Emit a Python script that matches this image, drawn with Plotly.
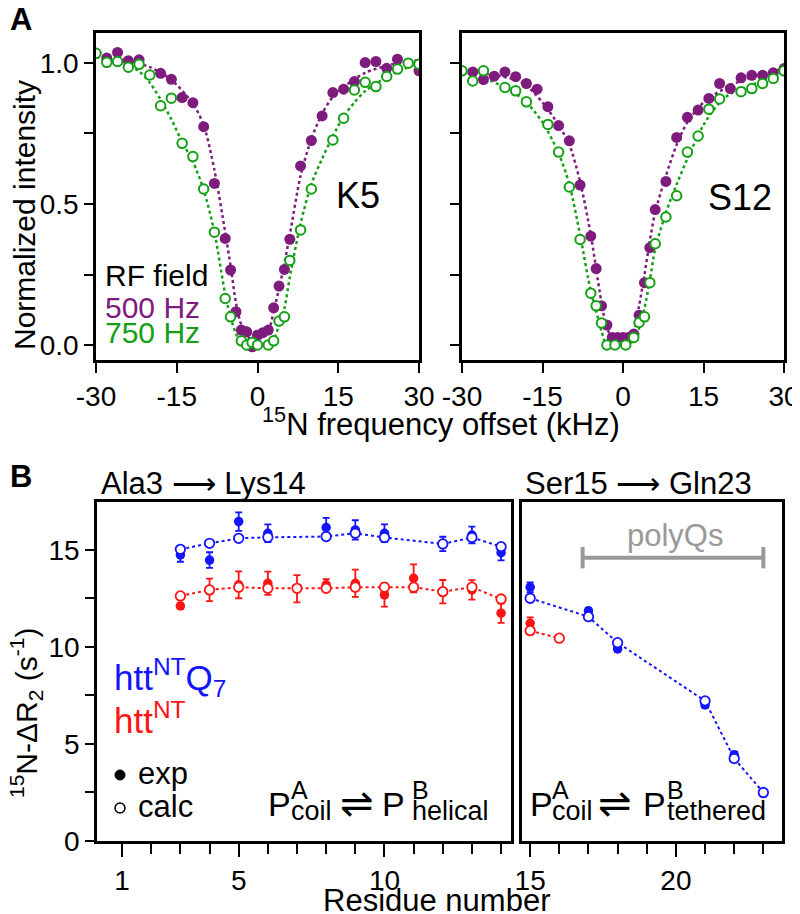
import plotly.graph_objects as go

# The page body has an 8px margin, so the figure is drawn from screen (8, 8).
OFF = 8
W, H = 800 - OFF, 914 - OFF
def px(x): return (x - OFF) / W
def py(y): return 1 - (y - OFF) / H

FONT = "Liberation Sans, Arial, Helvetica, sans-serif"
PURPLE = "#7d1c7d"
GREEN = "#14a014"
BLUE = "#1414ff"
RED = "#ff1414"
GRAY = "#999999"

# ---------------- Panel A data ----------------
k5_off_500 = [-28, -26, -24, -22, -18, -16, -14, -12, -10, -8, -6, -5, -4, -3, -2, -1, 0, 1, 2, 3, 4, 5, 6, 8, 10, 12, 14, 16, 18, 20, 22, 24, 26, 30]
k5_int_500 = [1.017, 1.037, 1.008, 1.011, 0.963, 0.942, 0.877, 0.859, 0.774, 0.573, 0.378, 0.266, 0.118, 0.053, 0.047, -0.006, 0.035, 0.044, 0.053, 0.132, 0.209, 0.268, 0.375, 0.635, 0.725, 0.812, 0.895, 0.907, 0.934, 1.001, 1.005, 0.981, 1.013, 0.972]
k5_off_750 = [-30, -28, -26, -24, -22, -20, -18, -16, -14, -12, -10, -8, -6, -5, -3, -2, -1, 0, 2, 3, 4, 5, 6, 8, 10, 14, 16, 18, 20, 22, 24, 26, 28, 30]
k5_int_750 = [1.034, 1.002, 1.005, 0.985, 0.995, 0.957, 0.848, 0.875, 0.715, 0.668, 0.553, 0.40, 0.165, 0.10, 0.015, 0.0, 0.009, 0.0, 0.0, 0.015, 0.085, 0.10, 0.30, 0.408, 0.553, 0.727, 0.804, 0.904, 0.931, 0.916, 0.952, 0.978, 0.999, 0.995]
k5_fit_off_500 = [-30, -25, -20, -16, -12, -10, -8, -6, -5, -4, -3, -2, 0, 2, 3, 4, 5, 6, 8, 10, 12, 14, 16, 20, 25, 30]
k5_fit_500 = [1.02, 1.01, 0.985, 0.94, 0.855, 0.78, 0.62, 0.40, 0.28, 0.15, 0.07, 0.03, 0.02, 0.05, 0.12, 0.2, 0.29, 0.39, 0.6, 0.73, 0.82, 0.88, 0.915, 0.965, 0.995, 1.01]
k5_fit_off_750 = [-30, -25, -22, -20, -18, -16, -14, -12, -10, -8, -6, -5, -4, -3, -2, 0, 2, 3, 4, 5, 6, 8, 10, 12, 14, 16, 18, 20, 25, 30]
k5_fit_750 = [1.03, 1.0, 0.97, 0.93, 0.87, 0.80, 0.72, 0.65, 0.55, 0.40, 0.18, 0.10, 0.04, 0.01, 0.0, 0.0, 0.0, 0.02, 0.07, 0.13, 0.24, 0.43, 0.57, 0.66, 0.74, 0.81, 0.86, 0.90, 0.96, 1.0]

s12_off_500 = [-28, -26, -24, -22, -20, -18, -16, -14, -12, -10, -8, -6, -5, -4, -3, -2, -1, 0, 1, 2, 3, 4, 5, 6, 8, 10, 12, 14, 16, 18, 20, 22, 24, 26, 28, 30]
s12_int_500 = [0.968, 0.941, 0.953, 0.968, 0.951, 0.927, 0.907, 0.845, 0.778, 0.724, 0.567, 0.386, 0.271, 0.139, 0.071, 0.027, 0.027, 0.027, 0.027, 0.039, 0.106, 0.221, 0.345, 0.48, 0.58, 0.736, 0.807, 0.833, 0.874, 0.927, 0.909, 0.947, 0.956, 0.956, 0.965, 0.98]
s12_off_750 = [-30, -28, -26, -22, -20, -18, -14, -12, -10, -8, -6, -5, -4, -3, -1.5, 0.5, 2, 3, 4, 5, 6, 8, 10, 12, 14, 16, 18, 22, 24, 26, 28, 30]
s12_int_750 = [0.972, 0.936, 0.972, 0.913, 0.901, 0.862, 0.782, 0.684, 0.56, 0.374, 0.184, 0.139, 0.078, 0.0, 0.0, 0.0, 0.027, 0.08, 0.10, 0.221, 0.359, 0.454, 0.529, 0.684, 0.741, 0.836, 0.872, 0.898, 0.909, 0.927, 0.945, 0.972]
s12_fit_off_500 = [-30, -25, -20, -18, -15, -12, -10, -8, -6, -5, -4, -3, -2, 0, 2, 3, 4, 5, 6, 8, 10, 12, 15, 20, 25, 30]
s12_fit_500 = [0.97, 0.96, 0.94, 0.92, 0.86, 0.78, 0.71, 0.58, 0.39, 0.27, 0.15, 0.06, 0.03, 0.025, 0.05, 0.14, 0.25, 0.37, 0.47, 0.60, 0.71, 0.79, 0.86, 0.92, 0.955, 0.98]
s12_fit_off_750 = [-30, -25, -20, -18, -15, -12, -10, -8, -6, -5, -4, -3, 0, 2.5, 3, 4, 5, 6, 8, 10, 12, 15, 18, 20, 25, 30]
s12_fit_750 = [0.97, 0.94, 0.89, 0.86, 0.79, 0.68, 0.57, 0.39, 0.19, 0.12, 0.05, 0.0, 0.0, 0.02, 0.06, 0.13, 0.23, 0.34, 0.47, 0.57, 0.66, 0.78, 0.86, 0.89, 0.93, 0.975]

offset_ticks = [-30, -15, 0, 15, 30]
offset_labels = ["-30", "-15", "0", "15", "30"]

# ---------------- Panel B data ----------------
res_left_blue = [3, 4, 5, 6, 8, 9, 10, 12, 13, 14]
blue_exp_left = [14.74, 14.48, 16.46, 15.86, 16.15, 16.03, 15.86, 15.31, 15.77, 14.86]
blue_err_left = [0.35, 0.4, 0.48, 0.46, 0.5, 0.5, 0.46, 0.37, 0.43, 0.4]
blue_calc_left = [15.03, 15.34, 15.6, 15.65, 15.69, 15.86, 15.64, 15.31, 15.64, 15.17]

res_left_red = [3, 4, 5, 6, 7, 8, 9, 10, 11, 12, 13, 14]
red_exp_left = [12.11, 12.94, 13.2, 13.28, 13.0, 13.2, 13.28, 12.68, 13.54, 12.85, 12.94, 11.74]
red_err_left = [0.15, 0.58, 0.69, 0.6, 0.7, 0.3, 0.7, 0.6, 0.72, 0.6, 0.5, 0.5]
red_calc_left = [12.63, 12.94, 13.08, 13.02, 13.02, 13.02, 13.08, 13.08, 13.08, 12.85, 13.08, 12.47]

res_right_blue = [15, 17, 18, 21, 22, 23]
blue_exp_right = [13.08, 11.86, 9.9, 7.01, 4.45, 2.45]
blue_err_right = [0.25, 0.15, 0.15, 0.15, 0.15, 0.15]
blue_calc_right = [12.51, 11.56, 10.22, 7.22, 4.25, 2.5]

res_right_red = [15, 16]
red_exp_right = [11.22, None]
red_err_right = [0.3, 0]
red_calc_right = [10.84, 10.45]

polyq_span = [16.8, 23.0]
polyq_level = 14.6

fig = go.Figure()

def fit_line(x, y, color, xa, ya):
    fig.add_trace(go.Scatter(x=x, y=y, mode="lines", xaxis=xa, yaxis=ya, showlegend=False,
                             line=dict(color=color, width=2.5, dash="dot", shape="spline", smoothing=0.8),
                             hoverinfo="skip"))

def filled(x, y, color, xa, ya, size=11):
    fig.add_trace(go.Scatter(x=x, y=y, mode="markers", xaxis=xa, yaxis=ya, showlegend=False,
                             marker=dict(color=color, size=size, line=dict(width=0))))

def hollow(x, y, color, xa, ya, size=9.5, lw=2):
    fig.add_trace(go.Scatter(x=x, y=y, mode="markers", xaxis=xa, yaxis=ya, showlegend=False,
                             marker=dict(color="white", size=size, line=dict(color=color, width=lw))))

# Panel A left (K5)
fit_line(k5_fit_off_500, k5_fit_500, PURPLE, "x", "y")
fit_line(k5_fit_off_750, k5_fit_750, GREEN, "x", "y")
filled(k5_off_500, k5_int_500, PURPLE, "x", "y")
hollow(k5_off_750, k5_int_750, GREEN, "x", "y")
# Panel A right (S12)
fit_line(s12_fit_off_500, s12_fit_500, PURPLE, "x2", "y2")
fit_line(s12_fit_off_750, s12_fit_750, GREEN, "x2", "y2")
filled(s12_off_500, s12_int_500, PURPLE, "x2", "y2")
hollow(s12_off_750, s12_int_750, GREEN, "x2", "y2")

def b_series(res, exp, err, calc, color, xa, ya):
    fig.add_trace(go.Scatter(x=res, y=calc, mode="lines", xaxis=xa, yaxis=ya, showlegend=False,
                             line=dict(color=color, width=2, dash="dot"), hoverinfo="skip"))
    fig.add_trace(go.Scatter(x=res, y=exp, mode="markers", xaxis=xa, yaxis=ya, showlegend=False,
                             marker=dict(color=color, size=9.5, line=dict(width=0)),
                             error_y=dict(type="data", array=err, color=color, thickness=1.8, width=3.5)))
    fig.add_trace(go.Scatter(x=res, y=calc, mode="markers", xaxis=xa, yaxis=ya, showlegend=False,
                             marker=dict(color="white", size=9.5, line=dict(color=color, width=1.8))))

b_series(res_left_red, red_exp_left, red_err_left, red_calc_left, RED, "x3", "y3")
b_series(res_left_blue, blue_exp_left, blue_err_left, blue_calc_left, BLUE, "x3", "y3")
b_series(res_right_red, red_exp_right, red_err_right, red_calc_right, RED, "x4", "y4")
b_series(res_right_blue, blue_exp_right, blue_err_right, blue_calc_right, BLUE, "x4", "y4")

axis_common = dict(showgrid=False, zeroline=False, showline=True, linecolor="black", linewidth=2.5,
                   mirror=True, ticks="outside", tickcolor="black", tickwidth=2, automargin=False,
                   tickfont=dict(family=FONT, size=28, color="black"))

A_Y = [py(360), py(33)]
B_Y = [py(841), py(502)]
A_YRANGE = [-0.053, 1.106]
B_YRANGE = [0, 17.47]

minor_a = dict(tickvals=[0.25, 0.75], ticks="outside", ticklen=9, tickwidth=2, tickcolor="black")
minor_b = dict(tickvals=[2.5, 7.5, 12.5], ticks="outside", ticklen=9, tickwidth=2, tickcolor="black")

fig.update_layout(
    template="none",
    xaxis=dict(axis_common, domain=[px(96), px(419)], range=[-30, 30], anchor="y",
               tickvals=offset_ticks, ticktext=offset_labels, ticklen=10),
    yaxis=dict(axis_common, domain=A_Y, range=A_YRANGE, anchor="x",
               tickvals=[0, 0.5, 1.0], ticktext=["0.0", "0.5", "1.0"], ticklen=9, minor=minor_a),
    xaxis2=dict(axis_common, domain=[px(462), px(784)], range=[-30, 30], anchor="y2",
                tickvals=offset_ticks, ticktext=offset_labels, ticklen=10),
    yaxis2=dict(axis_common, domain=A_Y, range=A_YRANGE, anchor="x2",
                tickvals=[0, 0.5, 1.0], showticklabels=False, ticklen=9, minor=minor_a),
    xaxis3=dict(axis_common, domain=[px(97), px(511)], range=[0.14, 14.34], anchor="y3",
                tickvals=[1, 5, 10], ticklen=13,
                minor=dict(tickvals=list(range(1, 15)), ticks="outside", ticklen=10, tickwidth=2, tickcolor="black")),
    yaxis3=dict(axis_common, domain=B_Y, range=B_YRANGE, anchor="x3",
                tickvals=[0, 5, 10, 15], ticklen=9, minor=minor_b),
    xaxis4=dict(axis_common, domain=[px(522), px(782)], range=[14.72, 23.64], anchor="y4",
                tickvals=[15, 20], ticklen=13,
                minor=dict(tickvals=list(range(15, 24)), ticks="outside", ticklen=10, tickwidth=2, tickcolor="black")),
    yaxis4=dict(axis_common, domain=B_Y, range=B_YRANGE, anchor="x4", ticks="", showticklabels=False),
    width=W, height=H, autosize=False,
    margin=dict(l=0, r=0, t=0, b=0, pad=0),
    plot_bgcolor="white", paper_bgcolor="white",
    font=dict(family=FONT, color="black"),
)

ann = []
def text(t, x, y, size=31, color="black", xanchor="center", angle=0, family=FONT):
    ann.append(dict(text=t, x=px(x), y=py(y), xref="paper", yref="paper", showarrow=False,
                    xanchor=xanchor, yanchor="middle", textangle=angle, borderpad=0,
                    font=dict(family=family, size=size, color=color)))

text("<b>A</b>", 9, 20, size=31, xanchor="left")
text("<b>B</b>", 9, 476, size=31, xanchor="left")
text("Normalized intensity", 25, 215, size=30, angle=-90)
text("<sup>15</sup>N frequency offset (kHz)", 441, 422)
text("<sup>15</sup>N-ΔR<sub>2</sub> (s<sup>-1</sup>)", 26, 713, size=30, angle=-90)
text("Residue number", 437, 900)
text("Ala3 ⟶ Lys14", 100, 483, xanchor="left")
text("Ser15 ⟶ Gln23", 524, 483, xanchor="left")
text("K5", 358, 195, size=36)
text("S12", 740, 198, size=36)
text("RF field", 104, 275, size=30, xanchor="left")
text("500 Hz", 104, 307, size=30, color=PURPLE, xanchor="left")
text("750 Hz", 104, 333, size=30, color=GREEN, xanchor="left")
text("htt<sup>NT</sup>Q<sub>7</sub>", 113, 677, size=35, color=BLUE, xanchor="left")
text("htt<sup>NT</sup>", 113, 718, size=35, color=RED, xanchor="left")
text("exp", 137, 773, xanchor="left")
text("calc", 137, 806, xanchor="left")
text("polyQs", 675, 535, color=GRAY)

def equilibrium(right_sub, pos):
    p1, s1, arr, p2, s2 = pos
    text("P", p1, 804, size=34, xanchor="left")
    text("A", s1, 790, size=25, xanchor="left")
    text("coil", s1, 811, size=27, xanchor="left")
    text("⇌", arr, 803, size=40, xanchor="left", family="DejaVu Sans")
    text("P", p2, 804, size=34, xanchor="left")
    text("B", s2, 790, size=25, xanchor="left")
    text(right_sub, s2, 811, size=27, xanchor="left")

equilibrium("helical", (267, 290, 339, 381, 411))
equilibrium("tethered", (529, 551, 597, 642, 666))

fig.update_layout(annotations=ann)

shapes = [
    dict(type="circle", xref="paper", yref="paper", x0=px(115), x1=px(125), y0=py(780), y1=py(770),
         fillcolor="black", line=dict(color="black", width=1)),
    dict(type="circle", xref="paper", yref="paper", x0=px(115), x1=px(125), y0=py(813), y1=py(803),
         fillcolor="white", line=dict(color="black", width=1.5)),
    dict(type="line", xref="x4", yref="y4", x0=polyq_span[0], x1=polyq_span[1], y0=polyq_level, y1=polyq_level,
         line=dict(color=GRAY, width=4)),
    dict(type="line", xref="x4", yref="y4", x0=polyq_span[0], x1=polyq_span[0], y0=polyq_level - 0.55, y1=polyq_level + 0.55,
         line=dict(color=GRAY, width=4)),
    dict(type="line", xref="x4", yref="y4", x0=polyq_span[1], x1=polyq_span[1], y0=polyq_level - 0.55, y1=polyq_level + 0.55,
         line=dict(color=GRAY, width=4)),
]
fig.update_layout(shapes=shapes)

fig.write_html("out.html")
